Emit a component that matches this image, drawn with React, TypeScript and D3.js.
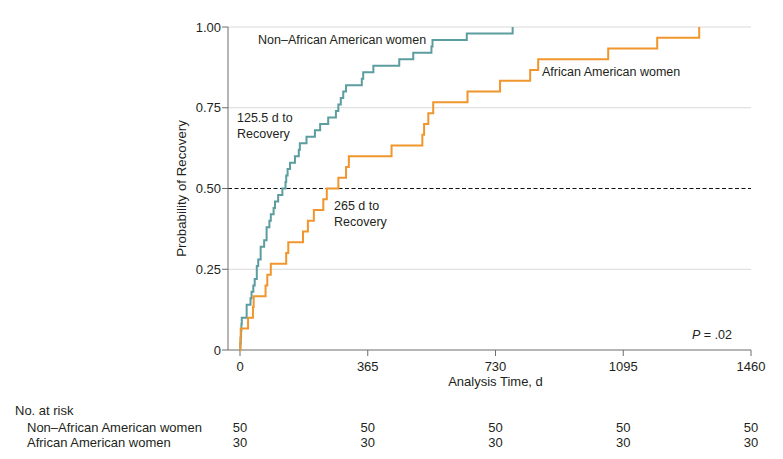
import React from "react";
import * as d3 from "d3";

// ---- data ----
const TIME_TICKS = [0, 365, 730, 1095, 1460];
const PROB_TICKS = [0, 0.25, 0.5, 0.75, 1];
const PROB_TICK_LABELS = ["0", "0.25", "0.50", "0.75", "1.00"];
const GRID_PROBS = [0.25, 0.75, 1];
const MEDIAN_PROB = 0.5;

const GROUP_NAMES = ["Non–African American women", "African American women"];
const NON_AA_N = 50;
const AA_N = 30;
// day of each observed recovery (no censoring)
const NON_AA_EVENT_DAYS = [
  1, 2, 3, 4, 5, 19, 19, 30, 33, 38, 42, 48, 48, 52, 59, 59, 69, 76, 76, 84,
  88, 96, 100, 109, 121, 130, 132, 136, 143, 157, 168, 171, 190, 214, 229, 252,
  274, 281, 288, 295, 303, 348, 352, 381, 455, 495, 547, 550, 648, 779,
];
const AA_EVENT_DAYS = [
  1, 2, 23, 37, 39, 73, 78, 88, 132, 138, 180, 194, 211, 238, 248, 281, 303,
  311, 433, 521, 526, 538, 552, 650, 743, 829, 852, 1052, 1192, 1312,
];
const AT_RISK_NON_AA = [50, 50, 50, 50, 50];
const AT_RISK_AA = [30, 30, 30, 30, 30];

const MEDIAN_LABEL_NON_AA = ["125.5 d to", "Recovery"];
const MEDIAN_LABEL_AA = ["265 d to", "Recovery"];

// ---- styles ----
const W = 783;
const H = 459;
const TEAL = "#5c9d9f";
const ORANGE = "#f0962c";
const TEXT = "#231f20";
const AXIS = "#6d6d6d";
const GRID = "#d9d9d9";
const FONT = "'Liberation Sans', Arial, sans-serif";

function kmPoints(days: number[], n: number): [number, number][] {
  const pts: [number, number][] = [[0, 0]];
  days.forEach((d, i) => pts.push([d, (i + 1) / n]));
  return pts;
}

export default function App() {
  const x = d3.scaleLinear().domain([0, 1460]).range([240, 751]);
  const y = d3.scaleLinear().domain([0, 1]).range([350, 27]);
  const axisLeft = 228;
  const line = d3
    .line<[number, number]>()
    .x((d) => x(d[0]))
    .y((d) => y(d[1]))
    .curve(d3.curveStepAfter);

  const tealPath = line(kmPoints(NON_AA_EVENT_DAYS, NON_AA_N)) || "";
  const orangePath = line(kmPoints(AA_EVENT_DAYS, AA_N)) || "";

  return (
    <svg
      width={W}
      height={H}
      style={{ position: "absolute", left: 0, top: 0, background: "#fff" }}
      fontFamily={FONT}
      fill={TEXT}
    >
      {/* grid */}
      {GRID_PROBS.map((p) => (
        <line key={p} x1={axisLeft} x2={x(1460)} y1={y(p)} y2={y(p)} stroke={GRID} strokeWidth={1} />
      ))}
      <line
        x1={axisLeft}
        x2={x(1460)}
        y1={y(MEDIAN_PROB)}
        y2={y(MEDIAN_PROB)}
        stroke="#111"
        strokeWidth={1}
        strokeDasharray="4,2.5"
      />

      {/* axes */}
      <line x1={axisLeft} x2={axisLeft} y1={y(1)} y2={y(0)} stroke={AXIS} />
      <line x1={axisLeft} x2={x(1460)} y1={y(0)} y2={y(0)} stroke={AXIS} />
      {PROB_TICKS.map((p, i) => (
        <g key={p}>
          <line x1={axisLeft - 6} x2={axisLeft} y1={y(p)} y2={y(p)} stroke={AXIS} />
          <text x={axisLeft - 7} y={y(p) + 4.5} textAnchor="end" fontSize={13}>
            {PROB_TICK_LABELS[i]}
          </text>
        </g>
      ))}
      {TIME_TICKS.map((t) => (
        <g key={t}>
          <line x1={x(t)} x2={x(t)} y1={y(0)} y2={y(0) + 6} stroke={AXIS} />
          <text x={x(t)} y={371} textAnchor="middle" fontSize={13}>
            {t}
          </text>
        </g>
      ))}
      <text x={x(730)} y={386} textAnchor="middle" fontSize={13}>
        Analysis Time, d
      </text>
      <text
        transform={`translate(186,${(y(0) + y(1)) / 2}) rotate(-90)`}
        textAnchor="middle"
        fontSize={13.3}
      >
        Probability of Recovery
      </text>

      {/* curves */}
      <path d={tealPath} fill="none" stroke={TEAL} strokeWidth={2} />
      <path d={orangePath} fill="none" stroke={ORANGE} strokeWidth={2} />

      {/* labels */}
      <text x={258} y={44} fontSize={12.5}>
        {GROUP_NAMES[0]}
      </text>
      <text x={542} y={76} fontSize={12.5}>
        {GROUP_NAMES[1]}
      </text>
      <text x={237} y={122} fontSize={12.5}>
        {MEDIAN_LABEL_NON_AA[0]}
      </text>
      <text x={237} y={138} fontSize={12.5}>
        {MEDIAN_LABEL_NON_AA[1]}
      </text>
      <text x={334} y={210} fontSize={12.5}>
        {MEDIAN_LABEL_AA[0]}
      </text>
      <text x={334} y={226} fontSize={12.5}>
        {MEDIAN_LABEL_AA[1]}
      </text>
      <text x={692} y={339} fontSize={12.5}>
        <tspan fontStyle="italic">P</tspan>
        <tspan> = .02</tspan>
      </text>

      {/* number at risk */}
      <text x={15} y={415} fontSize={13}>
        No. at risk
      </text>
      <text x={27} y={432} fontSize={13}>
        {GROUP_NAMES[0]}
      </text>
      <text x={27} y={447} fontSize={13}>
        {GROUP_NAMES[1]}
      </text>
      {TIME_TICKS.map((t, i) => (
        <g key={"r" + t}>
          <text x={x(t)} y={432} textAnchor="middle" fontSize={13}>
            {AT_RISK_NON_AA[i]}
          </text>
          <text x={x(t)} y={447} textAnchor="middle" fontSize={13}>
            {AT_RISK_AA[i]}
          </text>
        </g>
      ))}
    </svg>
  );
}
